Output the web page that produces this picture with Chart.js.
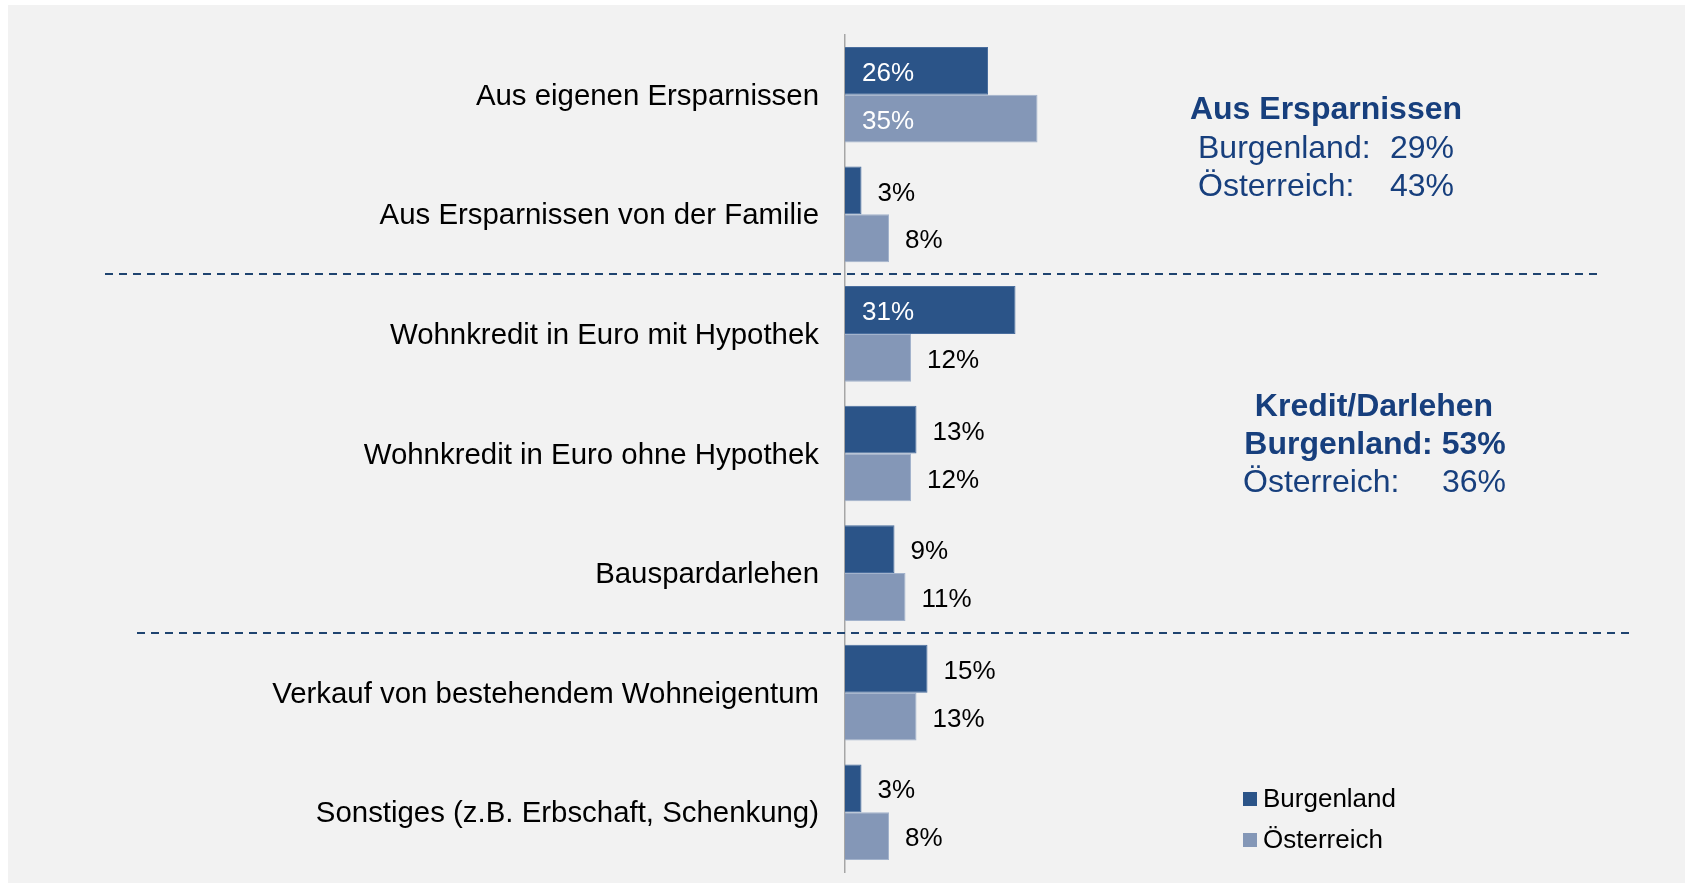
<!DOCTYPE html>
<html>
<head>
<meta charset="utf-8">
<script src="https://cdn.jsdelivr.net/npm/chart.js@4"></script>
<style>
  html, body { margin: 0; padding: 0; background: #ffffff; }
  #wrap { width: 1685px; height: 883px; position: relative; }
</style>
</head>
<body>
<div id="wrap"><canvas id="c" width="1685" height="883"></canvas></div>
<script>
const categories = [
  "Aus eigenen Ersparnissen",
  "Aus Ersparnissen von der Familie",
  "Wohnkredit in Euro mit Hypothek",
  "Wohnkredit in Euro ohne Hypothek",
  "Bauspardarlehen",
  "Verkauf von bestehendem Wohneigentum",
  "Sonstiges (z.B. Erbschaft, Schenkung)"
];
const seriesNames = ["Burgenland", "Österreich"];
const burgenland = [26, 3, 31, 13, 9, 15, 3];
const oesterreich = [35, 8, 12, 12, 11, 13, 8];
const separatorsAfter = [1, 4];
const noteSavings = {
  title: "Aus Ersparnissen",
  rows: [["Burgenland:", "29%"], ["Österreich:", "43%"]]
};
const noteCredit = {
  title: "Kredit/Darlehen",
  boldRow: "Burgenland: 53%",
  rows: [["Österreich:", "36%"]]
};

const COL_B = "#2B5488";
const COL_O = "#8497B7";
const NAVY = "#173F7D";
const FONT = "'Liberation Sans', Arial, sans-serif";

const bgPlugin = {
  id: "bg",
  beforeDraw(chart) {
    const ctx = chart.ctx;
    ctx.save();
    ctx.fillStyle = "#ffffff";
    ctx.fillRect(0, 0, chart.width, chart.height);
    ctx.fillStyle = "#F2F2F2";
    ctx.fillRect(8, 5, chart.width - 8, chart.height - 5);
    ctx.restore();
  }
};

const overlayPlugin = {
  id: "overlay",
  afterDatasetsDraw(chart) {
    const ctx = chart.ctx;
    const y = chart.scales.y;
    ctx.save();
    // data labels
    ctx.font = "26px " + FONT;
    ctx.textBaseline = "middle";
    ctx.textAlign = "left";
    chart.data.datasets.forEach((ds, di) => {
      const meta = chart.getDatasetMeta(di);
      meta.data.forEach((bar, i) => {
        const v = ds.data[i];
        const txt = v + "%";
        if (v >= 20) {
          ctx.fillStyle = "#ffffff";
          ctx.fillText(txt, bar.base + 17, bar.y + 3);
        } else {
          ctx.fillStyle = "#000000";
          ctx.fillText(txt, bar.x + 16, bar.y + 3);
        }
      });
    });
    // dashed separators
    ctx.strokeStyle = "#1F4470";
    ctx.lineWidth = 2;
    ctx.setLineDash([8, 6]);
    const extents = [[105, 1597], [137, 1629]];
    separatorsAfter.forEach((idx, k) => {
      const yy = Math.round((y.getPixelForTick(idx) + y.getPixelForTick(idx + 1)) / 2);
      ctx.beginPath();
      ctx.moveTo(extents[k][0], yy);
      ctx.lineTo(extents[k][1], yy);
      ctx.stroke();
    });
    ctx.setLineDash([]);

    // annotation 1
    ctx.fillStyle = NAVY;
    ctx.textBaseline = "alphabetic";
    ctx.font = "bold 32px " + FONT;
    ctx.textAlign = "center";
    ctx.fillText(noteSavings.title, 1326, 119);
    ctx.font = "32px " + FONT;
    noteSavings.rows.forEach((r, i) => {
      ctx.textAlign = "left";
      ctx.fillText(r[0], i === 0 ? 1198 : 1198, 158 + i * 38);
      ctx.textAlign = "right";
      ctx.fillText(r[1], 1454, 158 + i * 38);
    });

    // annotation 2
    ctx.font = "bold 32px " + FONT;
    ctx.textAlign = "center";
    ctx.fillText(noteCredit.title, 1374, 416);
    ctx.fillText(noteCredit.boldRow, 1375, 454);
    ctx.font = "32px " + FONT;
    noteCredit.rows.forEach((r, i) => {
      ctx.textAlign = "left";
      ctx.fillText(r[0], 1243, 492 + i * 38);
      ctx.textAlign = "right";
      ctx.fillText(r[1], 1506, 492 + i * 38);
    });

    // legend
    ctx.font = "26px " + FONT;
    ctx.textAlign = "left";
    ctx.textBaseline = "middle";
    chart.data.datasets.forEach((ds, di) => {
      const ly = 799 + di * 41;
      ctx.fillStyle = ds.backgroundColor;
      ctx.fillRect(1243, ly - 7, 14, 14);
      ctx.fillStyle = "#000000";
      ctx.fillText(ds.label, 1263, ly + 1);
    });
    ctx.restore();
  }
};

new Chart(document.getElementById("c"), {
  type: "bar",
  data: {
    labels: categories,
    datasets: [
      { label: seriesNames[0], data: burgenland, backgroundColor: COL_B, borderColor: "#4A6E9E", borderWidth: 1 },
      { label: seriesNames[1], data: oesterreich, backgroundColor: COL_O, borderColor: "#A3B3CC", borderWidth: 1 }
    ]
  },
  options: {
    indexAxis: "y",
    responsive: false,
    animation: false,
    events: [],
    layout: { padding: { top: 35, bottom: 11, left: 0, right: 290 } },
    datasets: { bar: { categoryPercentage: 0.8, barPercentage: 1.0 } },
    plugins: { legend: { display: false }, tooltip: { enabled: false } },
    scales: {
      x: { display: false, min: 0, max: 100 },
      y: {
        afterFit(s) { s.width = 845; s.paddingTop = 0; s.paddingBottom = 0; },
        grid: { display: false, drawTicks: false },
        border: { display: true, color: "#A6A6A6", width: 1.5 },
        ticks: { color: "#000000", padding: 26, labelOffset: 2, font: { family: FONT, size: 29.4 } }
      }
    }
  },
  plugins: [bgPlugin, overlayPlugin]
});
</script>
</body>
</html>
